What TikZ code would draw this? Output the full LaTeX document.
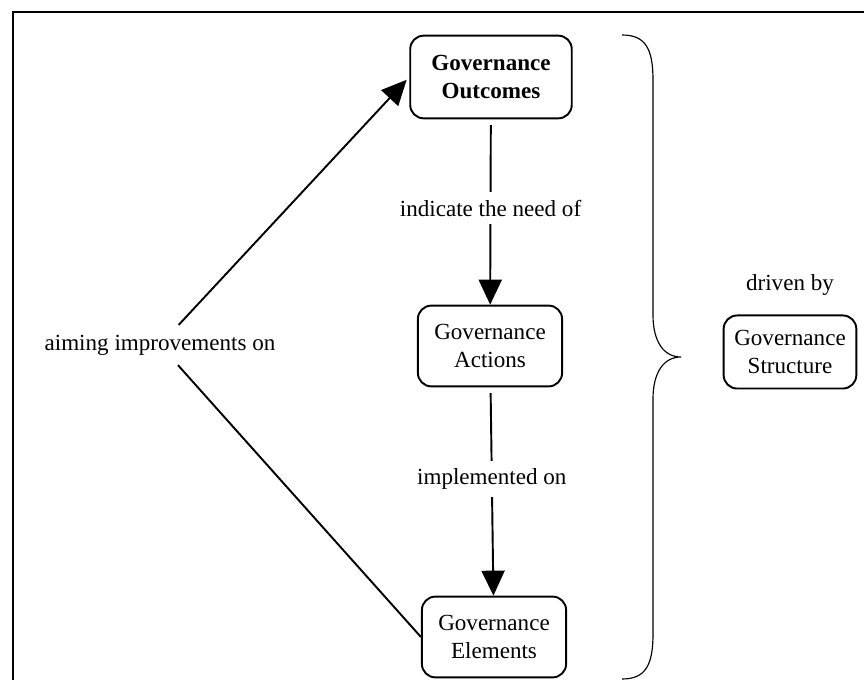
\documentclass[tikz,border=0pt,12pt]{standalone}
\usepackage{fontspec}
\setmainfont{Liberation Serif}
\usetikzlibrary{arrows.meta}

\begin{document}
\begin{tikzpicture}[x=0.52pt, y=-0.52pt, >={Triangle[length=13pt,width=12pt]},
  box/.style={draw=black, line width=1pt, rounded corners=7pt, align=center, fill=white},
  link/.style={line width=1pt},
  tag/.style={fill=white, inner sep=4pt}]

\useasboundingbox (0,0) rectangle (864,680);

% frame, cut off by the page on the right and at the bottom
\draw[line width=1.3pt] (13,680) -- (13,12) -- (864,12);

\node[box, font=\bfseries, minimum width=84pt, minimum height=43pt] (outcomes) at (491,77) {Governance\\Outcomes};
\node[box, minimum width=75pt, minimum height=42pt] (actions) at (490,346) {Governance\\Actions};
\node[box, minimum width=75pt, minimum height=42pt] (elements) at (494,637) {Governance\\Elements};
\node[box, minimum width=69pt, minimum height=38pt] (structure) at (790,352) {Governance\\Structure};
\node (drivenby) at (790,285) {driven by};
\node[inner sep=5pt] (aiming) at (160,345) {aiming improvements on};

\draw[link, ->, shorten <=3pt] (outcomes) -- node[tag, pos=0.48] {indicate the need of} (actions);
\draw[link, ->, shorten <=3pt] (actions) -- node[tag, pos=0.44] {implemented on} (elements);
\draw[link] (elements.west) -- (aiming);
\draw[link, ->, shorten >=2pt] (aiming) -- (outcomes.west);

% brace round the three boxes
\draw[line width=0.6pt] (622,35) .. controls (645,35) and (653,48) .. (653,80)
  -- (653,315) .. controls (653,342) and (664,357) .. (681,357)
  .. controls (664,357) and (653,372) .. (653,399)
  -- (653,634) .. controls (653,666) and (645,679) .. (622,679);

\end{tikzpicture}
\end{document}
